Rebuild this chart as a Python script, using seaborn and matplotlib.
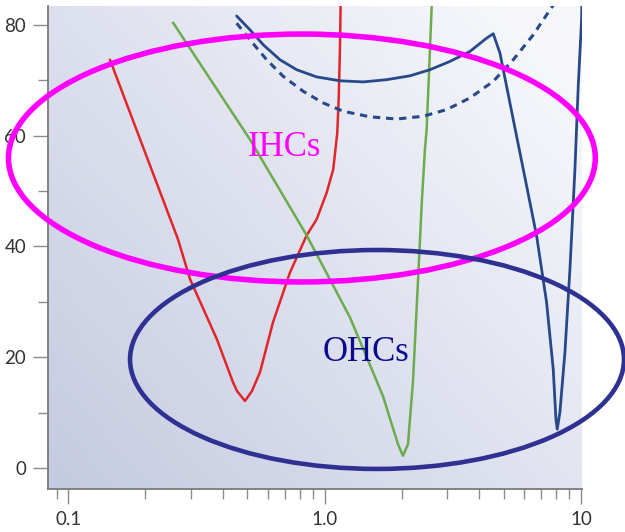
import numpy as np
import pandas as pd
import matplotlib

matplotlib.use("Agg")
import matplotlib.pyplot as plt  # noqa: E402
from matplotlib.patches import Ellipse  # noqa: E402
from matplotlib.ticker import FixedLocator, LogLocator, NullFormatter  # noqa: E402
import seaborn as sns  # noqa: E402

# curvas (frequencia em escala log, limiar)
red_x = [0.1454, 0.2678, 0.2984, 0.3802, 0.4388, 0.455, 0.4888, 0.5205, 0.5595,
         0.6287, 0.7324, 0.8507, 0.9307, 1.018, 1.080, 1.120, 1.134, 1.147,
         1.154, 1.162]
red_y = [73.7, 41.3, 34.1, 23.2, 15.5, 13.9, 12.1, 13.9, 17.3,
         26.3, 35.3, 42.0, 44.9, 49.7, 53.9, 60.5, 66.5, 75.5,
         83.3, 84.5]

green_x = [0.2561, 0.5113, 0.8507, 1.255, 1.688, 1.932, 2.020, 2.113, 2.210,
           2.311, 2.396, 2.461, 2.499, 2.559, 2.615]
green_y = [80.4, 59.3, 42.0, 27.2, 13.0, 4.3, 2.2, 4.3, 15.5,
           33.5, 48.5, 57.5, 61.1, 72.5, 83.3]

blue_x = [0.4536, 0.5113, 0.5762, 0.6693, 0.7776, 0.9307, 1.147, 1.414, 1.745,
          2.151, 2.575, 3.082, 3.687, 4.283, 4.546, 4.828, 5.441, 6.136,
          6.711, 7.340, 7.792, 7.983, 8.077, 8.274, 8.655, 9.052, 9.467, 9.752,
          10.05, 10.08]
blue_y = [81.6, 79.1, 76.4, 73.7, 71.9, 70.6, 69.9, 69.7, 70.1,
          70.8, 71.9, 73.4, 75.2, 77.6, 78.4, 74.9, 62.9, 50.9,
          41.9, 29.9, 17.8, 8.8, 7.0, 10.1, 20.9, 35.9, 53.9, 68.9,
          80.9, 84.0]

dash_x = [0.4536, 0.5113, 0.594, 0.6894, 0.825, 0.9874, 1.182, 1.502, 1.909,
          2.424, 2.991, 3.687, 4.546, 5.441, 6.510, 7.563, 7.91]
dash_y = [80.3, 77.3, 73.7, 70.7, 68.0, 65.9, 64.4, 63.4, 63.0,
          63.5, 64.7, 66.8, 69.8, 73.7, 78.2, 82.7, 84.0]

x_ticks = [0.1, 1.0, 10]
x_tick_labels = ["0.1", "1.0", "10"]
y_ticks = [0, 20, 40, 60, 80]
y_minor = [10, 30, 50, 70]

sns.set_style("ticks")
plt.rcParams["font.family"] = ["Lato", "DejaVu Sans"]

fig = plt.figure(figsize=(6.25, 5.32), dpi=100)
ax = fig.add_axes([0.0763, 0.0803, 0.8544, 0.9084])
ax.set_facecolor("none")

# fundo em degrade (canto inferior esquerdo mais escuro)
u, v = np.meshgrid(np.linspace(0, 1, 200), np.linspace(0, 1, 200))
t = np.clip(0.6 * u + 0.5 * v, 0, 1)[..., None]
dark = np.array([196, 202, 224]) / 255
light = np.array([246, 247, 251]) / 255
grad = dark * (1 - t) + light * t
ax.imshow(grad, extent=(0, 1, 0, 1), transform=ax.transAxes, origin="lower",
          aspect="auto", zorder=0, interpolation="bilinear")

curvas = [
    (red_x, red_y, "#e1262b", 1.8, "-"),
    (green_x, green_y, "#6cab4e", 1.8, "-"),
    (blue_x, blue_y, "#27498a", 2.0, "-"),
    (dash_x, dash_y, "#27498a", 2.2, (0, (2.4, 1.9))),
]
for xs, ys, cor, lw, estilo in curvas:
    df = pd.DataFrame({"f": xs, "nivel": ys})
    sns.lineplot(data=df, x="f", y="nivel", ax=ax, color=cor, linewidth=lw,
                 sort=False, estimator=None, zorder=2, linestyle=estilo)

ax.set_xscale("log")
ax.set_xlim(0.0831, 10.06)
ax.set_ylim(-3.84, 83.4)

ax.set_xticks(x_ticks)
ax.set_xticklabels(x_tick_labels)
ax.xaxis.set_minor_locator(LogLocator(base=10, subs=np.arange(2, 10)))
ax.xaxis.set_minor_formatter(NullFormatter())
ax.set_yticks(y_ticks)
ax.yaxis.set_minor_locator(FixedLocator(y_minor))
ax.tick_params(which="major", length=10.5, width=1.0, color="#8a8a8a",
               labelsize=13.5, labelcolor="#333333", pad=5)
ax.tick_params(which="minor", length=7, width=1.0, color="#8a8a8a")
ax.set_xlabel("")
ax.set_ylabel("")

sns.despine(ax=ax)
for lado in ["left", "bottom"]:
    ax.spines[lado].set_color("#7a7a7a")
    ax.spines[lado].set_linewidth(1.3)

# elipses de anotacao (coordenadas do eixo, podem sair da area)
ax.add_patch(Ellipse((0.476, 0.6855), 1.099, 0.513, transform=ax.transAxes,
                     fill=False, edgecolor="#ff00ff", linewidth=4.0,
                     clip_on=False, zorder=4))
ax.add_patch(Ellipse((0.6167, 0.2686), 0.925, 0.453, transform=ax.transAxes,
                     fill=False, edgecolor="#2e3192", linewidth=3.3,
                     clip_on=False, zorder=4))

ax.text(0.444, 0.708, "IHCs", transform=ax.transAxes, color="#ff00ff",
        fontsize=25, family="Liberation Serif", ha="center", va="center", zorder=5)
ax.text(0.596, 0.282, "OHCs", transform=ax.transAxes, color="#0a0a8c",
        fontsize=25, family="Liberation Serif", ha="center", va="center", zorder=5)

fig.savefig("out.png", dpi=100)
